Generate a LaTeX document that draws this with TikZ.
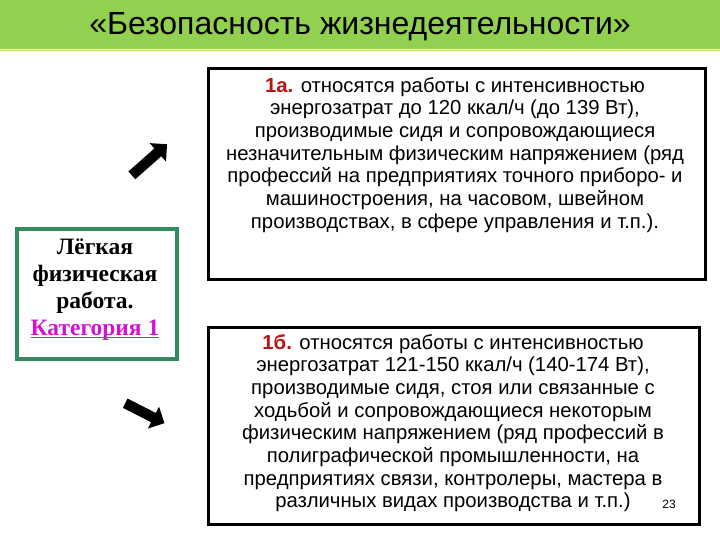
\documentclass[tikz,border=0pt]{standalone}
\usepackage{fontspec}
\setmainfont{Liberation Sans}
\newfontfamily\serifb{Liberation Serif}
\usetikzlibrary{shapes.arrows}
\definecolor{barcol}{RGB}{146,208,80}
\definecolor{barline}{RGB}{170,220,130}
\definecolor{boxgreen}{RGB}{50,140,95}
\definecolor{magtext}{RGB}{210,20,210}
\definecolor{darkred}{RGB}{185,20,20}
\newcommand\myuline[1]{\setbox0\hbox{#1}\rlap{\rule[-2.6pt]{\wd0}{1.3pt}}\box0}
\tikzset{
  infobox/.style={draw=black, line width=2.6pt, fill=white},
  bodytext/.style={align=center, font=\fontsize{20.3}{22.7}\selectfont, inner sep=0pt},
  blockarrow/.style={single arrow, fill=black, draw=none, minimum width=21pt,
     inner xsep=0pt, inner ysep=5pt, single arrow head indent=0pt}
}
\begin{document}
\begin{tikzpicture}[x=1pt,y=-1pt]
\useasboundingbox (0,0) rectangle (720,540);
\fill[white] (0,0) rectangle (720,540);
% title bar
\fill[barcol] (0,0) rectangle (720,49);
\draw[barline, line width=1.5pt] (0,50.5) -- (720,50.5);
\node[font=\fontsize{32}{34}\selectfont, inner sep=0pt] (title) at (360,27) {«Безопасность жизнедеятельности»};
% left box
\node[draw=boxgreen, line width=4pt, fill=white, minimum width=160pt, minimum height=130pt, anchor=north west] (left) at (15,227) {};
\node[align=center, inner sep=0pt, font=\serifb\bfseries\fontsize{23.5}{27}\selectfont] (lefttext) at (95,290)
  {Лёгкая\\физическая\\работа.\\\textcolor{magtext}{\myuline{Категория 1}}};
% right boxes
\node[infobox, minimum width=497pt, minimum height=211pt, anchor=north west] (boxa) at (207,67) {};
\node[infobox, minimum width=491pt, minimum height=197pt, anchor=north west] (boxb) at (207,326) {};
\node[bodytext, anchor=north] (texta) at (455,77)
  {\textcolor{darkred}{\textbf{1а.}} относятся работы с интенсивностью\\
   энергозатрат до 120 ккал/ч (до 139 Вт),\\
   производимые сидя и сопровождающиеся\\
   незначительным физическим напряжением (ряд\\
   профессий на предприятиях точного приборо- и\\
   машиностроения, на часовом, швейном\\
   производствах, в сфере управления и т.п.).};
\node[bodytext, anchor=north] (textb) at (453,334)
  {\textcolor{darkred}{\textbf{1б.}} относятся работы с интенсивностью\\
   энергозатрат 121-150 ккал/ч (140-174 Вт),\\
   производимые сидя, стоя или связанные с\\
   ходьбой и сопровождающиеся некоторым\\
   физическим напряжением (ряд профессий в\\
   полиграфической промышленности, на\\
   предприятиях связи, контролеры, мастера в\\
   различных видах производства и т.п.)};
\node[font=\fontsize{12}{12}\selectfont, inner sep=0pt] (pnum) at (669,504) {23};
% arrows
\node[blockarrow, minimum height=47pt, rotate=41.5] (arrup) at (147.5,161.5) {};
\node[blockarrow, minimum height=44pt, rotate=-27] (arrdown) at (142.5,412) {};
\end{tikzpicture}
\end{document}
